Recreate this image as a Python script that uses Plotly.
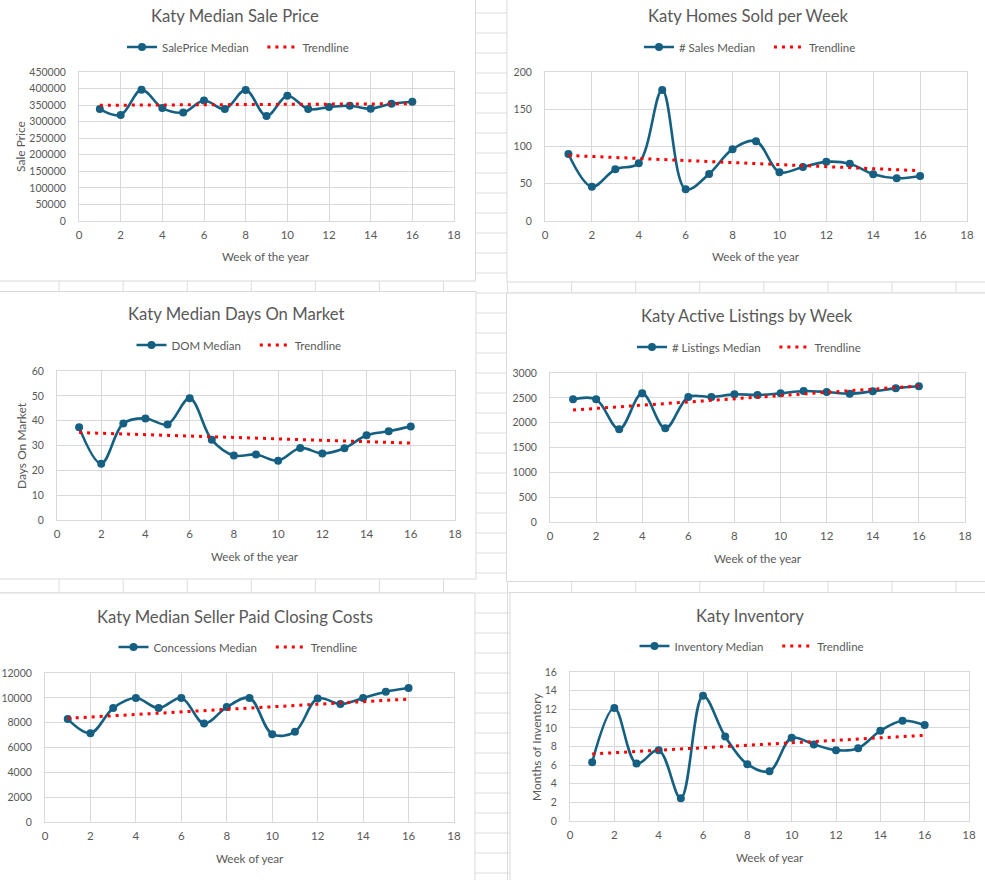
import plotly.graph_objects as go

W, H = 985, 880
FONT = "Lato"
TXT = "#595959"
BLUE = "#156082"
RED = "#FF0000"
GRID = "#d9d9d9"
SHEET = "#dcdcdc"
NB = "\u00a0"

# ---------------- data ----------------
weeks = list(range(1, 17))
trend_weeks = [1, 16]

sale_price = [338000, 320000, 396500, 341000, 328000, 364000, 338000, 395500,
              317000, 378000, 338000, 344000, 348000, 339000, 354000, 360000]
sale_price_trend = [349500, 354300]

homes_sold = [90, 46, 69.5, 77.6, 175.8, 42.6, 63.2, 96.4,
              107.2, 65.5, 72.6, 79.4, 76.7, 62.8, 57.4, 60.5]
homes_sold_trend = [88, 67.5]

dom = [37.3, 22.7, 38.9, 40.9, 38.5, 49.0, 32.3, 26.0,
       26.4, 23.9, 29.0, 26.8, 28.9, 34.1, 35.7, 37.7]
dom_trend = [35.2, 31.0]

listings = [2470, 2470, 1866, 2591, 1886, 2517, 2517, 2570,
            2557, 2591, 2638, 2617, 2584, 2631, 2691, 2732]
listings_trend = [2255, 2740]

concessions = [8287, 7157, 9175, 9982, 9175, 9982, 7937, 9256,
               9982, 7076, 7265, 9955, 9498, 9982, 10493, 10789]
concessions_trend = [8350, 9900]

inventory = [6.31, 12.13, 6.17, 7.61, 2.44, 13.45, 9.08, 6.10,
             5.35, 8.93, 8.22, 7.61, 7.82, 9.69, 10.76, 10.30]
inventory_trend = [7.2, 9.2]

titles = ["Katy Median Sale Price", "Katy Homes Sold per Week", "Katy Median Days On Market",
          "Katy Active Listings by Week", "Katy Median Seller Paid Closing Costs", "Katy Inventory"]
series_names = ["SalePrice Median", "# Sales Median", "DOM Median",
                "# Listings Median", "Concessions Median", "Inventory Median"]
trend_name = "Trendline"
x_titles = ["Week of the year", "Week of the year", "Week of the year",
            "Week of the year", "Week of year", "Week of year"]
y_titles = ["Sale Price", None, "Days On Market", None, None, "Months of Inventory"]
y_ranges = [(0, 450000, 50000), (0, 200, 50), (0, 60, 10), (0, 3000, 500), (0, 12000, 2000), (0, 16, 2)]
values = [sale_price, homes_sold, dom, listings, concessions, inventory]
trends = [sale_price_trend, homes_sold_trend, dom_trend, listings_trend, concessions_trend, inventory_trend]

# ---------------- layout geometry (pixels) ----------------
plot_boxes = [(79, 454, 72, 221), (545, 967, 72, 221), (57, 455, 371, 520),
              (550, 965, 373, 522), (45, 454, 673, 822), (570, 969, 672, 821)]
title_pos = [(235, 16), (748, 16), (236, 314), (747, 316), (235, 617), (750, 616)]
legend_pos = [(238, 47), (750, 47), (239, 345), (749, 347), (238, 647), (752, 646)]
xtitle_pos = [(266, 257), (756, 257), (255, 556), (758, 558), (250, 858), (770, 857)]
ytitle_pos = [(21, 147), None, (21, 446), None, None, (536, 747)]
chart_rects = [(-2, 475.5, -2, 281), (507, 990, -2, 282), (-2, 476, 291.5, 579),
               (506.5, 990, 293, 581.5), (-2, 475, 593, 885), (510, 990, 592.5, 885)]


def px(x):
    return x / W


def py(y):
    return 1 - y / H


fig = go.Figure()
shapes = []
# spreadsheet grid
for k in range(0, 45):
    y = 13 + 20 * k
    shapes.append(dict(type="line", xref="paper", yref="paper", x0=0, x1=1, y0=py(y), y1=py(y),
                       line=dict(color=SHEET, width=1), layer="below"))
for k in range(1, 17):
    x = -5 + 64.07 * k
    shapes.append(dict(type="line", xref="paper", yref="paper", x0=px(x), x1=px(x), y0=0, y1=1,
                       line=dict(color=SHEET, width=1), layer="below"))
# chart boxes
for (x0, x1, y0, y1) in chart_rects:
    shapes.append(dict(type="rect", xref="paper", yref="paper", x0=px(x0), x1=px(x1),
                       y0=py(y1), y1=py(y0), fillcolor="white",
                       line=dict(color=GRID, width=1), layer="below"))

annotations = []
layout_axes = {}
for i in range(6):
    n = "" if i == 0 else str(i + 1)
    lg = "legend" if i == 0 else "legend" + str(i + 1)
    fig.add_trace(go.Scatter(x=weeks, y=values[i], mode="lines+markers", name=series_names[i] + NB * 3,
                             line=dict(color=BLUE, width=2.6, shape="spline", smoothing=1),
                             marker=dict(color=BLUE, size=8),
                             xaxis="x" + n, yaxis="y" + n, legend=lg))
    fig.add_trace(go.Scatter(x=trend_weeks, y=trends[i], mode="lines", name=trend_name,
                             line=dict(color=RED, width=3, dash="3px,5px"),
                             xaxis="x" + n, yaxis="y" + n, legend=lg))
    x0, x1, y0, y1 = plot_boxes[i]
    ymin, ymax, dt = y_ranges[i]
    layout_axes["xaxis" + n] = dict(domain=[px(x0), px(x1)], anchor="y" + n, range=[0, 18], dtick=2,
                                    showgrid=True, gridcolor=GRID, zeroline=False, showline=True,
                                    linecolor=GRID, mirror=True, ticks="", ticklabelstandoff=3,
                                    tickfont=dict(family=FONT, size=11.5, color=TXT), fixedrange=True)
    layout_axes["yaxis" + n] = dict(domain=[py(y1), py(y0)], anchor="x" + n, range=[ymin, ymax], dtick=dt,
                                    showgrid=True, gridcolor=GRID, zeroline=False, showline=True,
                                    linecolor=GRID, mirror=True, ticks="", ticklabelstandoff=10,
                                    tickformat="d",
                                    tickfont=dict(family=FONT, size=10.5, color=TXT), fixedrange=True)
    lx, ly = legend_pos[i]
    layout_axes[lg] = dict(orientation="h", x=px(lx), y=py(ly), xanchor="center", yanchor="middle",
                           font=dict(family=FONT, size=11.5, color=TXT), bgcolor="rgba(0,0,0,0)",
                           itemwidth=30, traceorder="normal")
    tx, ty = title_pos[i]
    annotations.append(dict(text=titles[i], x=px(tx), y=py(ty), xref="paper", yref="paper",
                            showarrow=False, xanchor="center", yanchor="middle",
                            font=dict(family=FONT, size=16.7, color=TXT)))
    ax_, ay_ = xtitle_pos[i]
    annotations.append(dict(text=x_titles[i], x=px(ax_), y=py(ay_), xref="paper", yref="paper",
                            showarrow=False, xanchor="center", yanchor="middle",
                            font=dict(family=FONT, size=11.6, color=TXT)))
    if y_titles[i]:
        vx, vy = ytitle_pos[i]
        annotations.append(dict(text=y_titles[i], x=px(vx), y=py(vy), xref="paper", yref="paper",
                                showarrow=False, xanchor="center", yanchor="middle", textangle=-90,
                                font=dict(family=FONT, size=12, color=TXT)))

fig.update_layout(width=W, height=H, margin=dict(l=0, r=0, t=0, b=0, pad=0, autoexpand=False),
                  paper_bgcolor="white", plot_bgcolor="white", showlegend=True,
                  shapes=shapes, annotations=annotations, **layout_axes)
fig.write_html("out.html", config={"displayModeBar": False},
               post_script="document.body.style.margin='0px';document.body.style.overflow='hidden';")
